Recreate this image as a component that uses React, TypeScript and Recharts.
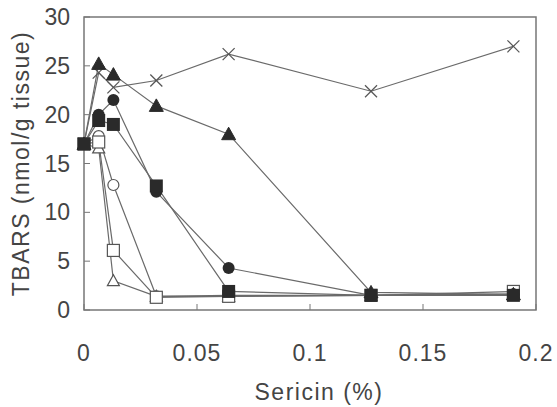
import { LineChart, Line, XAxis, YAxis, ReferenceArea, Label } from 'recharts'

const sericin = [0, 0.0065, 0.013, 0.032, 0.064, 0.127, 0.19]
const crossVals = [17, 24.3, 22.8, 23.5, 26.2, 22.4, 27]
const openTriVals = [17, 16.6, 3.0, 1.4, 1.4, 1.5, 1.6]
const openCircleVals = [17, 17.8, 12.8, 1.4, 1.5, 1.5, 1.6]
const openSquareVals = [17, 17.2, 6.1, 1.3, 1.4, 1.5, 1.9]
const filledTriVals = [17, 25.2, 24.1, 20.9, 18.0, 1.8, 1.6]
const filledCircleVals = [17, 20.0, 21.5, 12.1, 4.3, 1.5, 1.6]
const filledSquareVals = [17, 19.4, 19.0, 12.7, 1.9, 1.5, 1.5]

const xTicks = [0, 0.05, 0.1, 0.15, 0.2]
const yTicks = [0, 5, 10, 15, 20, 25, 30]

const toData = (vals: number[]) => sericin.map((x, i) => ({ x, y: vals[i] }))

const series = [
  { name: 'cross', data: toData(crossVals), shape: 'cross' },
  { name: 'openTri', data: toData(openTriVals), shape: 'openTri' },
  { name: 'openCircle', data: toData(openCircleVals), shape: 'openCircle' },
  { name: 'openSquare', data: toData(openSquareVals), shape: 'openSquare' },
  { name: 'filledTri', data: toData(filledTriVals), shape: 'filledTri' },
  { name: 'filledCircle', data: toData(filledCircleVals), shape: 'filledCircle' },
  { name: 'filledSquare', data: toData(filledSquareVals), shape: 'filledSquare' },
]

const INK = '#2a2a2a'
const LINE = '#6a6a6a'
const TEXT = '#444'
const FONT = 'Liberation Sans, Arial, sans-serif'

function Marker({ cx, cy, shape }: { cx: number; cy: number; shape: string }) {
  if (cx == null || cy == null) return null
  switch (shape) {
    case 'cross':
      return (
        <g stroke="#555" strokeWidth={1.2}>
          <line x1={cx - 6} y1={cy - 6} x2={cx + 6} y2={cy + 6} />
          <line x1={cx - 6} y1={cy + 6} x2={cx + 6} y2={cy - 6} />
        </g>
      )
    case 'openTri':
      return <polygon points={`${cx},${cy - 6} ${cx - 6},${cy + 5} ${cx + 6},${cy + 5}`} fill="#fff" stroke="#555" strokeWidth={1.2} />
    case 'openCircle':
      return <circle cx={cx} cy={cy} r={5.5} fill="#fff" stroke="#555" strokeWidth={1.2} />
    case 'openSquare':
      return <rect x={cx - 6} y={cy - 6} width={12} height={12} fill="#fff" stroke="#555" strokeWidth={1.2} />
    case 'filledTri':
      return <polygon points={`${cx},${cy - 7} ${cx - 7},${cy + 5.5} ${cx + 7},${cy + 5.5}`} fill={INK} stroke={INK} />
    case 'filledCircle':
      return <circle cx={cx} cy={cy} r={6} fill={INK} />
    default:
      return <rect x={cx - 6.5} y={cy - 6.5} width={13} height={13} fill={INK} />
  }
}

function XTick({ x, y, payload }: any) {
  return (
    <g>
      <line x1={x} y1={y} x2={x} y2={y - 6} stroke="#777" />
      <text x={x} y={y + 51} textAnchor="middle" fontSize={23} fill={TEXT} fontFamily={FONT} letterSpacing={1}>
        {payload.value}
      </text>
    </g>
  )
}

function YTick({ x, y, payload }: any) {
  return (
    <g>
      <line x1={x} y1={y} x2={x + 6} y2={y} stroke="#777" />
      <text x={x - 14} y={y + 8} textAnchor="end" fontSize={23} fill={TEXT} fontFamily={FONT}>
        {payload.value}
      </text>
    </g>
  )
}

export default function App() {
  return (
    <div style={{ position: 'absolute', left: 0, top: 0, background: '#fff' }}>
      <LineChart width={557} height={407} margin={{ top: 17, right: 21, left: 0, bottom: 0 }}>
        <XAxis
          type="number"
          dataKey="x"
          domain={[0, 0.2]}
          ticks={xTicks}
          axisLine={false}
          tickLine={false}
          tickSize={0}
          tickMargin={0}
          height={97}
          tick={<XTick />}
        >
          <Label
            content={({ viewBox }: any) => (
              <text
                x={viewBox.x + viewBox.width / 2 + 9}
                y={400}
                textAnchor="middle"
                fontSize={23}
                fill={TEXT}
                fontFamily={FONT}
                letterSpacing={1.5}
              >
                Sericin (%)
              </text>
            )}
          />
        </XAxis>
        <YAxis
          type="number"
          dataKey="y"
          domain={[0, 30]}
          ticks={yTicks}
          axisLine={false}
          tickLine={false}
          tickSize={0}
          tickMargin={0}
          width={84}
          tick={<YTick />}
        >
          <Label
            content={({ viewBox }: any) => {
              const cy = viewBox.y + viewBox.height / 2
              return (
                <text
                  x={29}
                  y={cy}
                  transform={`rotate(-90, 29, ${cy})`}
                  textAnchor="middle"
                  fontSize={23}
                  fill={TEXT}
                  fontFamily={FONT}
                  letterSpacing={1.5}
                >
                  TBARS (nmol/g tissue)
                </text>
              )
            }}
          />
        </YAxis>
        <ReferenceArea x1={0} x2={0.2} y1={0} y2={30} fill="none" stroke="#777" strokeWidth={1.5} />
        {series.map((s) => (
          <Line
            key={s.name}
            data={s.data}
            dataKey="y"
            type="linear"
            stroke={LINE}
            strokeWidth={1.2}
            isAnimationActive={false}
            dot={(p: any) => <Marker key={`${s.name}-${p.index}`} cx={p.cx} cy={p.cy} shape={s.shape} />}
            activeDot={false}
          />
        ))}
      </LineChart>
    </div>
  )
}
